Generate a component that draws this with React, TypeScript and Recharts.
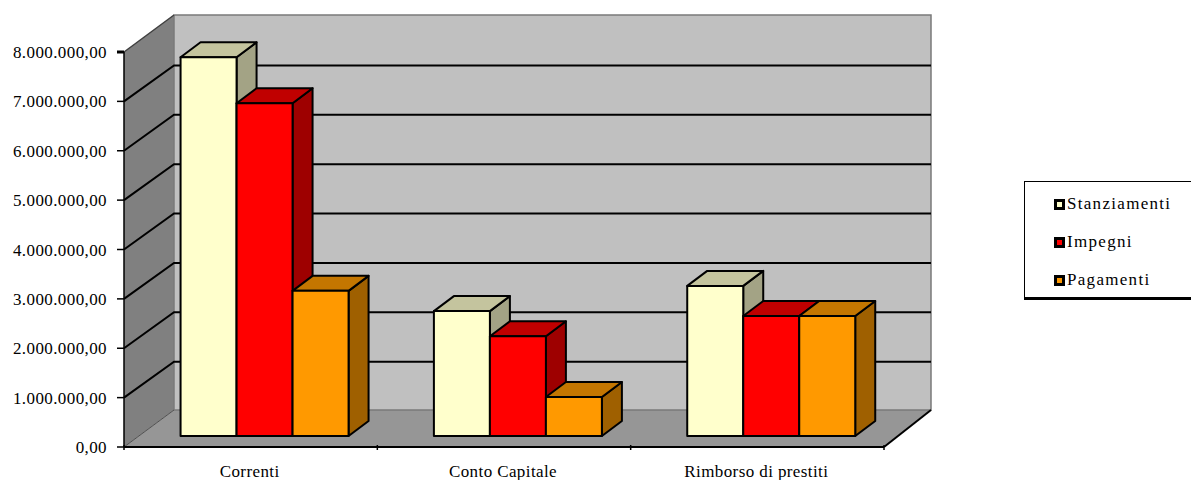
import { Bar, BarChart, Legend, ReferenceArea, ReferenceLine, XAxis, YAxis } from "recharts"

const categories = ["Correnti", "Conto Capitale", "Rimborso di prestiti"]
const stanziamenti = [7670000, 2530000, 3040000]
const impegni = [6740000, 2020000, 2430000]
const pagamenti = [2940000, 790000, 2430000]
const yTicks = [0, 1000000, 2000000, 3000000, 4000000, 5000000, 6000000, 7000000, 8000000]
const yTickLabels = [
  "0,00",
  "1.000.000,00",
  "2.000.000,00",
  "3.000.000,00",
  "4.000.000,00",
  "5.000.000,00",
  "6.000.000,00",
  "7.000.000,00",
  "8.000.000,00",
]

const data = categories.map((name, i) => ({
  name,
  Stanziamenti: stanziamenti[i],
  Impegni: impegni[i],
  Pagamenti: pagamenti[i],
}))

const FONT = "'Liberation Serif', serif"
// wall depth of the fake 3D box, and how far the bars sit inside it
const WALL_X = 50
const WALL_Y = 37
const BAR_X = 13.5
const BAR_Y = 11
const BOX_X = 20
const BOX_Y = 15

function Walls({ x, y, width, height }: any) {
  const r = x + width
  const b = y + height
  return (
    <g>
      <polygon points={`${x},${y} ${x + WALL_X},${y - WALL_Y} ${x + WALL_X},${b - WALL_Y} ${x},${b}`} fill="#808080" />
      <polygon points={`${x},${b} ${r},${b} ${r + WALL_X - 3},${b - WALL_Y} ${x + WALL_X},${b - WALL_Y}`} fill="#969696" />
      <rect x={x + WALL_X} y={y - WALL_Y} width={width - 3} height={height} fill="#C0C0C0" stroke="#7a7a7a" strokeWidth={1.5} />
      <line x1={x} y1={y} x2={x + WALL_X} y2={y - WALL_Y} stroke="#404040" strokeWidth={1.5} />
      <line x1={x} y1={b} x2={x + WALL_X} y2={b - WALL_Y} stroke="#505050" strokeWidth={1} />
      <line x1={r} y1={b} x2={r + WALL_X - 3} y2={b - WALL_Y} stroke="#000" strokeWidth={2} />
    </g>
  )
}

function WallLine({ x1, y1, x2, y2 }: any) {
  return (
    <polyline
      points={`${x1},${y1} ${x1 + WALL_X},${y1 - WALL_Y + 1} ${x2 + WALL_X - 3},${y2 - WALL_Y + 1}`}
      fill="none"
      stroke="#000"
      strokeWidth={2}
    />
  )
}

function Box3D({ x, y, width, height, front, top, side }: any) {
  const l = x + BAR_X
  const t = y - BAR_Y
  const r = l + width
  const b = t + height
  return (
    <g stroke="#000" strokeWidth={2} strokeLinejoin="round">
      <polygon points={`${r},${t} ${r + BOX_X},${t - BOX_Y} ${r + BOX_X},${b - BOX_Y} ${r},${b}`} fill={side} />
      <polygon points={`${l},${t} ${l + BOX_X},${t - BOX_Y} ${r + BOX_X},${t - BOX_Y} ${r},${t}`} fill={top} />
      <rect x={l} y={t} width={width} height={height} fill={front} />
    </g>
  )
}

function YTick({ x, y, payload, index }: any) {
  return (
    <g>
      {index === yTicks.length - 1 && <line x1={x + 10} y1={y} x2={x + 17} y2={y} stroke="#000" strokeWidth={3} />}
      <text x={x} y={y} dy={6} textAnchor="end" fontFamily={FONT} fontSize={17} letterSpacing={0.4} fill="#000">
        {yTickLabels[index] ?? payload.value}
      </text>
    </g>
  )
}

function XTick({ x, y, payload, index }: any) {
  const half = payload.offset ?? 126.67
  return (
    <g>
      <line x1={x - half} y1={y - 8} x2={x - half} y2={y - 3} stroke="#000" strokeWidth={1.5} />
      {index === categories.length - 1 && (
        <line x1={x + half} y1={y - 8} x2={x + half} y2={y - 3} stroke="#000" strokeWidth={1.5} />
      )}
      <text x={x - 1} y={y + 24} textAnchor="middle" fontFamily={FONT} fontSize={17} letterSpacing={0.4} fill="#000">
        {payload.value}
      </text>
    </g>
  )
}

function LegendBox({ payload }: any) {
  return (
    <div
      style={{
        boxSizing: "border-box",
        width: 175,
        height: 119,
        background: "#fff",
        border: "1.5px solid #000",
        borderBottomWidth: 3,
        padding: "3px 0 0 29px",
        fontFamily: FONT,
        fontSize: 17,
        color: "#000",
      }}
    >
      {(payload ?? []).map((p: any) => (
        <div key={p.value} style={{ height: 38, display: "flex", alignItems: "center", letterSpacing: 1.3 }}>
          <span
            style={{
              display: "inline-block",
              boxSizing: "border-box",
              width: 11,
              height: 11,
              marginRight: 2,
              background: p.color,
              border: "3px solid #000",
            }}
          />
          {p.value}
        </div>
      ))}
    </div>
  )
}

export default function App() {
  return (
    <div style={{ position: "absolute", left: 0, top: 0, width: 1191, height: 480, overflow: "hidden" }}>
      <BarChart
        width={1191}
        height={480}
        data={data}
        margin={{ top: 52, right: 307, bottom: 0, left: 0 }}
        barCategoryGap="17%"
        barGap={0}
      >
        <XAxis
          dataKey="name"
          height={33}
          stroke="#000"
          strokeWidth={2}
          tickLine={false}
          tick={<XTick />}
          interval={0}
          tickMargin={0}
        />
        <YAxis
          width={124}
          domain={[0, 8000000]}
          ticks={yTicks}
          interval={0}
          tick={<YTick />}
          tickSize={7}
          tickMargin={10}
          stroke="#000"
          strokeWidth={1.5}
        />
        <ReferenceArea y1={0} y2={8000000} ifOverflow="visible" shape={<Walls />} zIndex={-50} />
        {yTicks.slice(1, -1).map((t) => (
          <ReferenceLine key={t} y={t} ifOverflow="visible" shape={<WallLine />} zIndex={-40} />
        ))}
        <Legend
          layout="horizontal"
          verticalAlign="middle"
          align="center"
          itemSorter={null}
          content={<LegendBox />}
          wrapperStyle={{ left: 1024, top: 181, width: 175, height: 119 }}
        />
        <Bar dataKey="Stanziamenti" fill="#FFFFCC" isAnimationActive={false} shape={<Box3D front="#FFFFCC" top="#C4C49E" side="#A3A385" />} />
        <Bar dataKey="Impegni" fill="#FF0000" isAnimationActive={false} shape={<Box3D front="#FF0000" top="#C00000" side="#9E0000" />} />
        <Bar dataKey="Pagamenti" fill="#FF9900" isAnimationActive={false} shape={<Box3D front="#FF9900" top="#C47600" side="#9F6000" />} />
      </BarChart>
    </div>
  )
}
